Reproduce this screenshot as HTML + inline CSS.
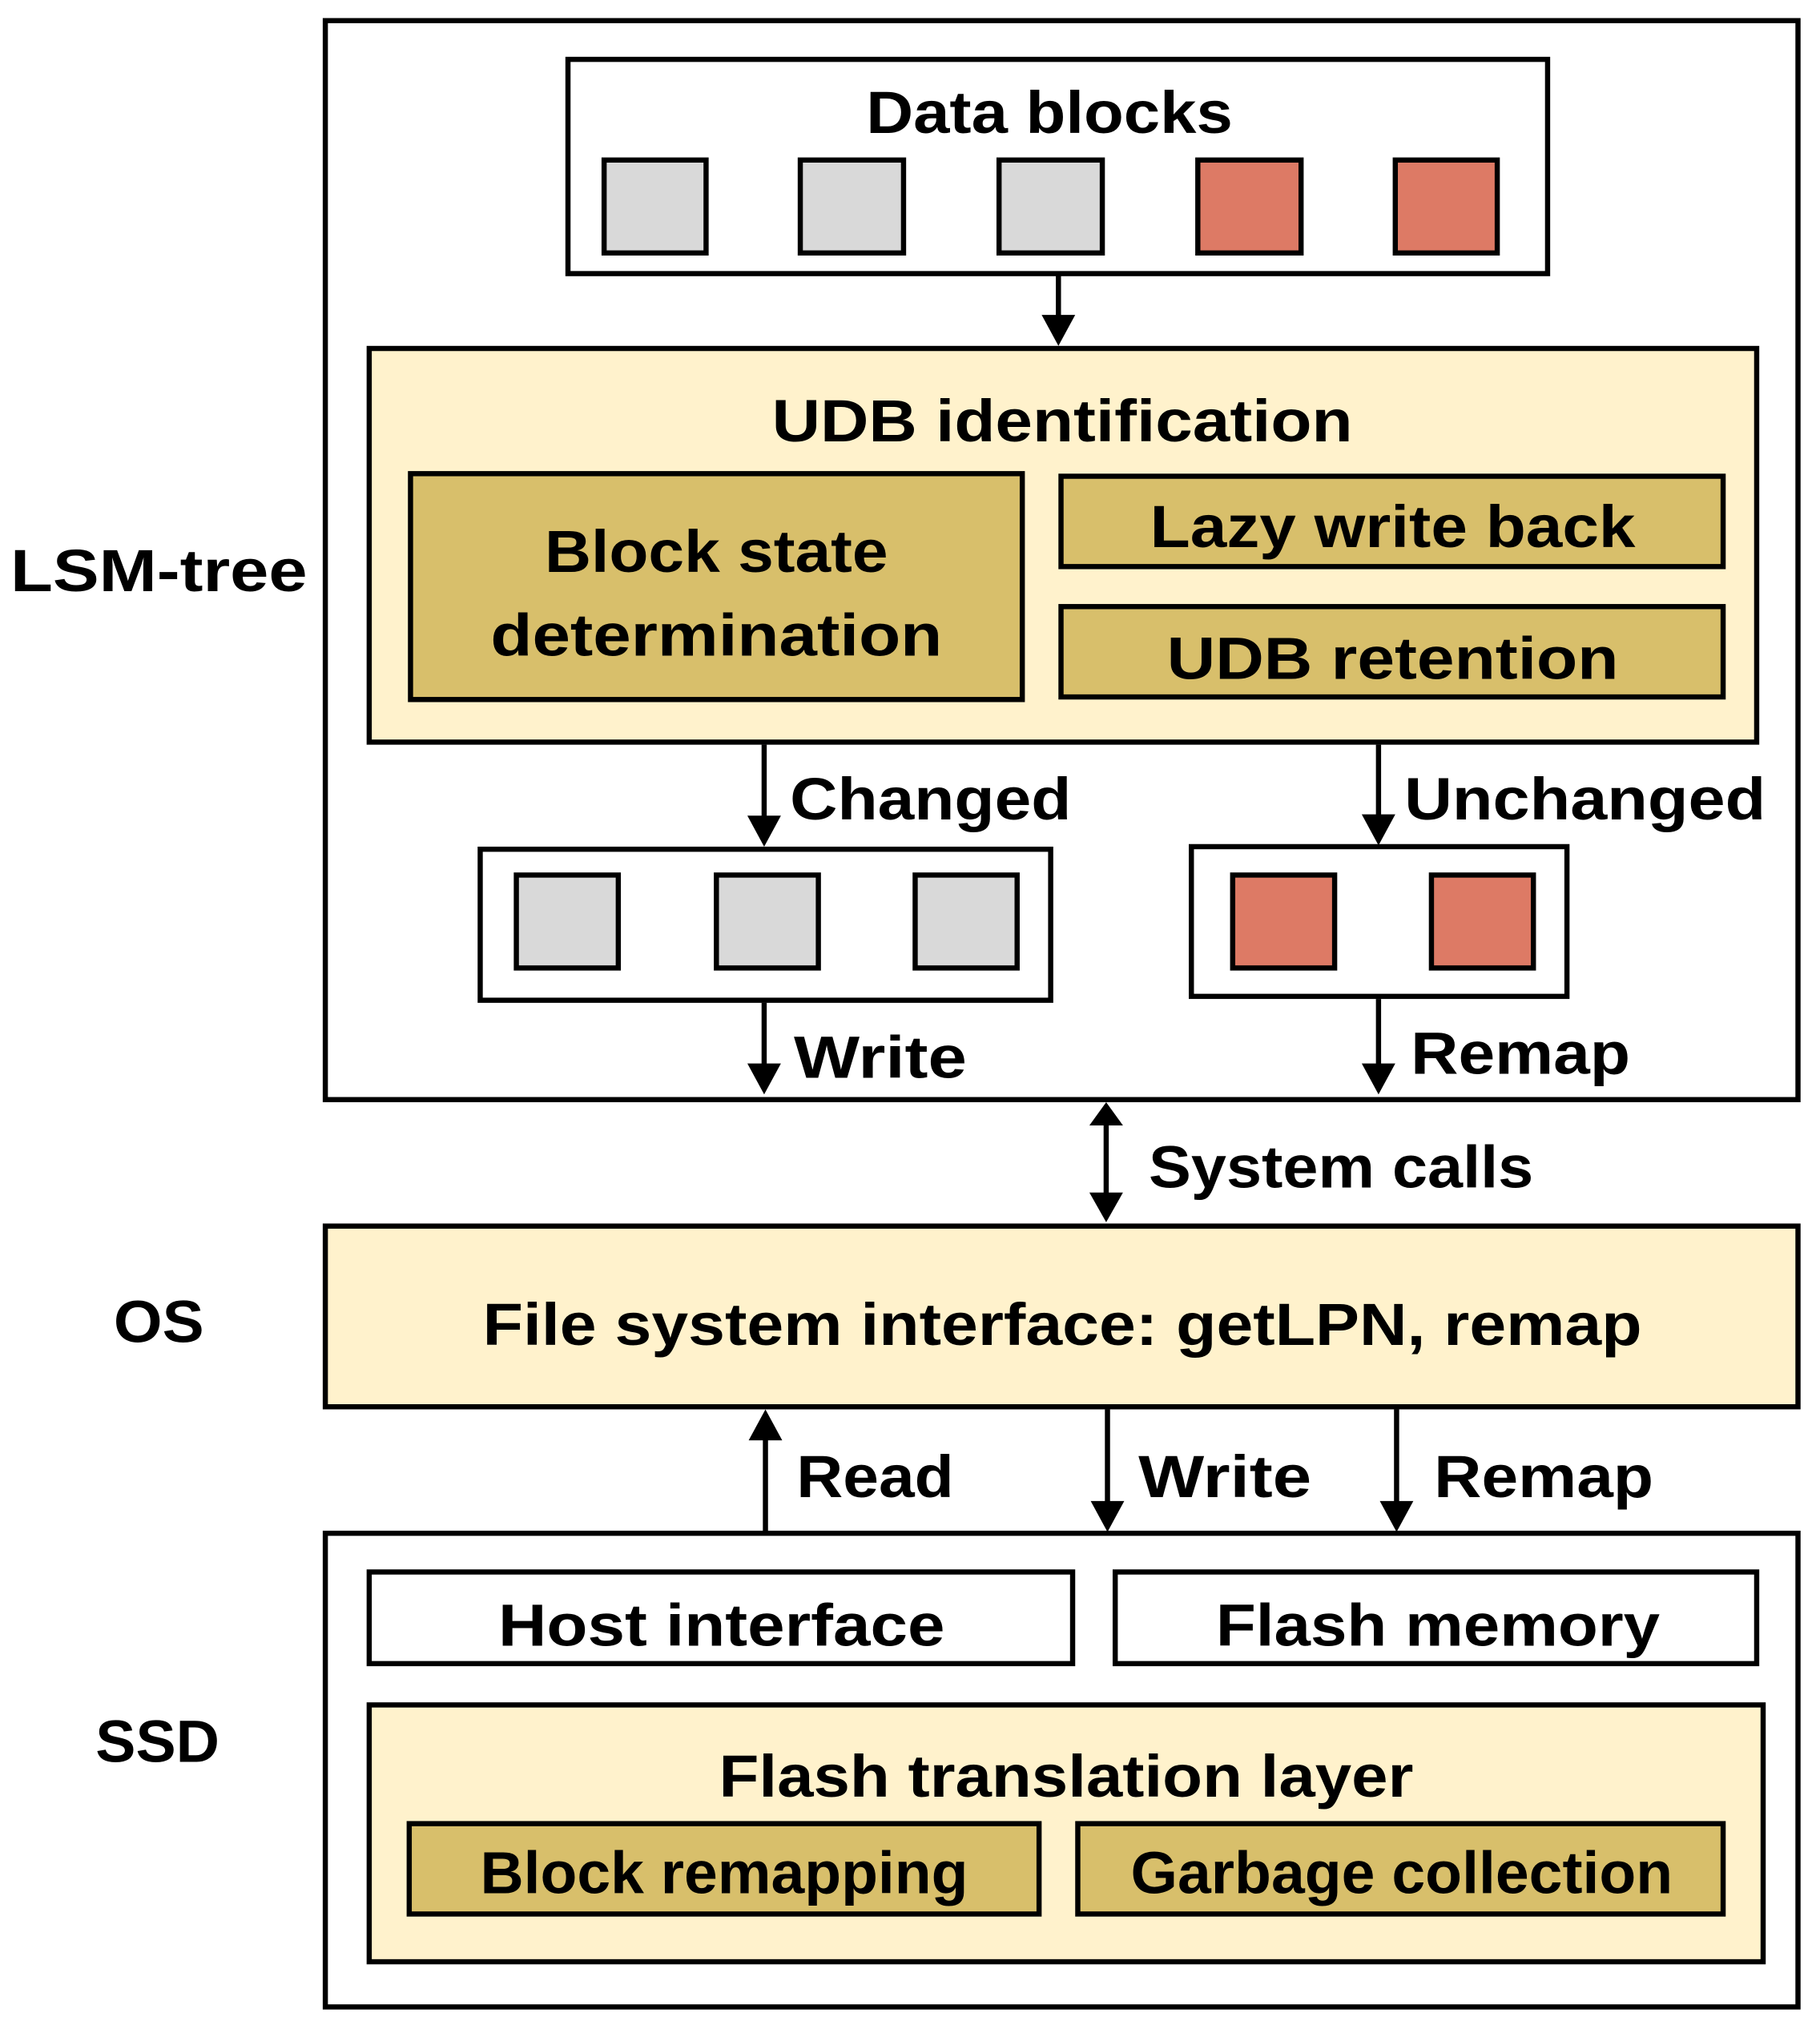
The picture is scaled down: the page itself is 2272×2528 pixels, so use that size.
<!DOCTYPE html>
<html><head><meta charset="utf-8"><style>html,body{margin:0;padding:0;background:#fff}svg{display:block}</style></head>
<body>
<svg width="2272" height="2528" viewBox="0 0 1410 1569" xmlns="http://www.w3.org/2000/svg" font-family="'Liberation Sans', sans-serif" font-weight="bold" fill="#000">
<g stroke="#000" stroke-width="4">
<rect x="252" y="16" width="1141" height="836" fill="#fff"/>
<rect x="440" y="46" width="759" height="166" fill="#fff"/>
<rect x="468" y="124" width="79" height="72" fill="#d9d9d9"/>
<rect x="620" y="124" width="80" height="72" fill="#d9d9d9"/>
<rect x="774" y="124" width="80" height="72" fill="#d9d9d9"/>
<rect x="928" y="124" width="80" height="72" fill="#dd7a65"/>
<rect x="1081" y="124" width="79" height="72" fill="#dd7a65"/>
<rect x="286" y="270" width="1075" height="305" fill="#fff2cc"/>
<rect x="318" y="367" width="474" height="175" fill="#d8bf6b"/>
<rect x="822" y="369" width="513" height="70" fill="#d8bf6b"/>
<rect x="822" y="470" width="513" height="70" fill="#d8bf6b"/>
<rect x="372" y="658" width="442" height="117" fill="#fff"/>
<rect x="400" y="678" width="79" height="72" fill="#d9d9d9"/>
<rect x="555" y="678" width="79" height="72" fill="#d9d9d9"/>
<rect x="709" y="678" width="79" height="72" fill="#d9d9d9"/>
<rect x="923" y="656" width="291" height="116" fill="#fff"/>
<rect x="955" y="678" width="79" height="72" fill="#dd7a65"/>
<rect x="1109" y="678" width="79" height="72" fill="#dd7a65"/>
<rect x="252" y="950" width="1141" height="140" fill="#fff2cc"/>
<rect x="252" y="1188" width="1141" height="367" fill="#fff"/>
<rect x="286" y="1218" width="545" height="71" fill="#fff"/>
<rect x="864" y="1218" width="497" height="71" fill="#fff"/>
<rect x="286" y="1321" width="1080" height="199" fill="#fff2cc"/>
<rect x="317" y="1413" width="488" height="70" fill="#d8bf6b"/>
<rect x="835" y="1413" width="500" height="70" fill="#d8bf6b"/>
<line x1="820" y1="212" x2="820" y2="248"/>
<line x1="592" y1="577" x2="592" y2="636"/>
<line x1="1068" y1="577" x2="1068" y2="635"/>
<line x1="592" y1="777" x2="592" y2="828"/>
<line x1="1068" y1="774" x2="1068" y2="828"/>
<line x1="857" y1="870" x2="857" y2="928"/>
<line x1="593" y1="1187" x2="593" y2="1112"/>
<line x1="858" y1="1092" x2="858" y2="1167"/>
<line x1="1082" y1="1092" x2="1082" y2="1167"/>
</g>
<g stroke="none">
<polygon points="807,244 833,244 820,268"/>
<polygon points="579,632 605,632 592,656"/>
<polygon points="1055,631 1081,631 1068,655"/>
<polygon points="579,824 605,824 592,848"/>
<polygon points="1055,824 1081,824 1068,848"/>
<polygon points="844,872 870,872 857,854"/>
<polygon points="844,924 870,924 857,947"/>
<polygon points="580,1116 606,1116 593,1092"/>
<polygon points="845,1163 871,1163 858,1187"/>
<polygon points="1069,1163 1095,1163 1082,1187"/>
</g>
<g font-size="46" text-anchor="middle">
<text x="813" y="103" textLength="284" lengthAdjust="spacingAndGlyphs">Data blocks</text>
<text x="823" y="342" textLength="450" lengthAdjust="spacingAndGlyphs">UDB identification</text>
<text x="555" y="443" textLength="266" lengthAdjust="spacingAndGlyphs">Block state</text>
<text x="555" y="508" textLength="350" lengthAdjust="spacingAndGlyphs">determination</text>
<text x="1079" y="424" textLength="376" lengthAdjust="spacingAndGlyphs">Lazy write back</text>
<text x="1079" y="526" textLength="350" lengthAdjust="spacingAndGlyphs">UDB retention</text>
<text x="823" y="1042" textLength="898" lengthAdjust="spacingAndGlyphs">File system interface: getLPN, remap</text>
<text x="559" y="1275" textLength="346" lengthAdjust="spacingAndGlyphs">Host interface</text>
<text x="1114" y="1275" textLength="344" lengthAdjust="spacingAndGlyphs">Flash memory</text>
<text x="826" y="1392" textLength="538" lengthAdjust="spacingAndGlyphs">Flash translation layer</text>
<text x="561" y="1467" textLength="378" lengthAdjust="spacingAndGlyphs">Block remapping</text>
<text x="1086" y="1467" textLength="420" lengthAdjust="spacingAndGlyphs">Garbage collection</text>
<text x="123" y="458" textLength="230" lengthAdjust="spacingAndGlyphs">LSM-tree</text>
<text x="123" y="1040" textLength="70" lengthAdjust="spacingAndGlyphs">OS</text>
<text x="122" y="1365" textLength="96" lengthAdjust="spacingAndGlyphs">SSD</text>
</g>
<g font-size="46">
<text x="612" y="635" textLength="218" lengthAdjust="spacingAndGlyphs">Changed</text>
<text x="1088" y="635" textLength="280" lengthAdjust="spacingAndGlyphs">Unchanged</text>
<text x="615" y="835" textLength="134" lengthAdjust="spacingAndGlyphs">Write</text>
<text x="1093" y="832" textLength="170" lengthAdjust="spacingAndGlyphs">Remap</text>
<text x="890" y="920" textLength="298" lengthAdjust="spacingAndGlyphs">System calls</text>
<text x="617" y="1160" textLength="122" lengthAdjust="spacingAndGlyphs">Read</text>
<text x="882" y="1160" textLength="134" lengthAdjust="spacingAndGlyphs">Write</text>
<text x="1111" y="1160" textLength="170" lengthAdjust="spacingAndGlyphs">Remap</text>
</g>
</svg>
</body></html>
